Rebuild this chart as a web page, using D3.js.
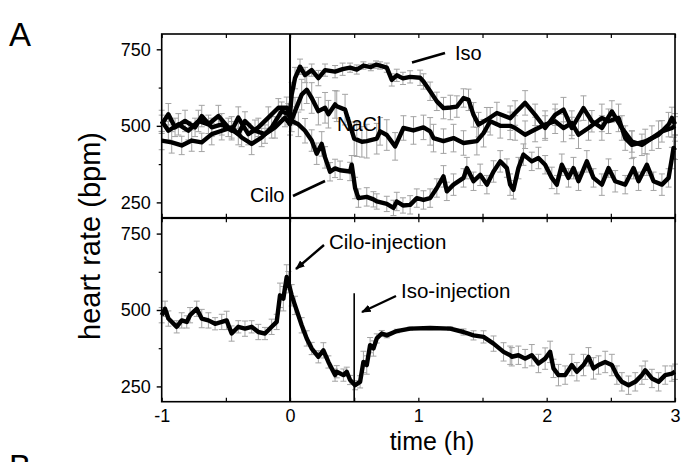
<!DOCTYPE html>
<html>
<head>
<meta charset="utf-8">
<script src="https://cdn.jsdelivr.net/npm/d3@7"></script>
<style>
  html, body { margin: 0; padding: 0; background: #fff; }
  svg text { font-family: "Liberation Sans", Arial, Helvetica, sans-serif; fill: #000; }
</style>
</head>
<body>
<svg id="chart" width="686" height="462"></svg>
<script>
// ---- data: [time (h), heart rate (bpm), error (bpm)] ----
const isoTop = [[-1.0,505,30],[-0.948,538,35],[-0.896,495,30],[-0.818,516,35],[-0.74,495,30],[-0.688,532,35],[-0.61,495,30],[-0.532,505,35],[-0.455,484,30],[-0.403,527,35],[-0.325,473,35],[-0.247,495,30],[-0.169,527,35],[-0.091,559,30],[-0.026,559,35],[0.0,538,30],[0.013,602,40],[0.039,656,35],[0.078,693,25],[0.117,666,25],[0.169,682,20],[0.221,656,25],[0.273,682,20],[0.351,677,20],[0.41,685,20],[0.468,690,15],[0.52,684,15],[0.572,697,12],[0.63,692,12],[0.67,700,12],[0.702,697,12],[0.754,690,15],[0.793,650,20],[0.832,665,20],[0.88,655,20],[0.936,660,20],[1.014,657,25],[1.04,645,25],[1.092,613,30],[1.144,580,30],[1.196,558,35],[1.25,560,40],[1.30,563,35],[1.352,591,30],[1.391,585,35],[1.43,536,40],[1.469,504,40],[1.534,520,40],[1.612,542,35],[1.716,525,40],[1.754,542,40],[1.832,575,40],[1.91,536,35],[1.988,493,40],[2.066,536,35],[2.131,553,40],[2.196,493,35],[2.287,558,40],[2.352,515,35],[2.43,493,40],[2.508,547,35],[2.586,493,40],[2.664,449,35],[2.742,438,35],[2.82,460,40],[2.898,482,35],[2.976,493,30],[3.0,500,30]];

const naclTop = [[-1.0,516,35],[-0.948,484,30],[-0.87,505,35],[-0.792,484,30],[-0.714,516,35],[-0.636,505,30],[-0.558,532,35],[-0.481,495,30],[-0.403,473,35],[-0.351,516,30],[-0.273,484,35],[-0.195,473,30],[-0.117,495,35],[-0.039,527,30],[0.0,505,35],[0.039,548,45],[0.091,602,50],[0.13,618,45],[0.169,591,50],[0.221,548,45],[0.273,559,50],[0.299,538,45],[0.351,570,45],[0.364,564,50],[0.429,553,50],[0.5,458,55],[0.52,455,55],[0.56,448,50],[0.598,450,55],[0.676,458,50],[0.702,482,45],[0.754,470,50],[0.819,433,45],[0.884,493,40],[0.962,485,45],[1.04,495,40],[1.092,482,45],[1.118,460,45],[1.196,450,40],[1.274,460,45],[1.352,444,40],[1.456,450,45],[1.508,476,45],[1.56,515,45],[1.638,500,40],[1.716,500,45],[1.754,493,40],[1.832,471,45],[1.91,488,40],[1.988,504,45],[2.066,515,40],[2.131,493,45],[2.196,509,40],[2.248,471,45],[2.326,493,40],[2.43,526,45],[2.482,515,40],[2.56,526,45],[2.612,460,40],[2.664,438,45],[2.768,449,40],[2.872,471,45],[2.95,504,40],[2.976,526,35],[3.0,505,35]];

const ciloTop = [[-1.0,452,30],[-0.922,446,35],[-0.844,436,30],[-0.766,452,35],[-0.688,446,30],[-0.61,473,35],[-0.532,484,30],[-0.455,495,35],[-0.377,462,30],[-0.299,441,35],[-0.221,462,30],[-0.143,495,35],[-0.065,548,30],[-0.013,538,35],[0.013,516,35],[0.065,505,40],[0.117,484,40],[0.169,452,35],[0.208,409,35],[0.247,441,40],[0.273,397,35],[0.312,350,30],[0.351,361,30],[0.39,355,30],[0.468,351,30],[0.481,373,30],[0.507,297,35],[0.533,264,30],[0.598,268,30],[0.65,260,25],[0.676,253,25],[0.754,245,25],[0.806,232,25],[0.832,253,30],[0.88,240,25],[0.936,242,30],[0.988,264,30],[1.04,258,30],[1.092,264,30],[1.144,297,30],[1.196,335,35],[1.222,286,30],[1.274,308,35],[1.352,330,30],[1.378,362,35],[1.43,319,30],[1.482,340,35],[1.534,308,30],[1.586,351,35],[1.638,384,35],[1.69,362,30],[1.715,308,35],[1.741,291,30],[1.78,362,35],[1.819,406,35],[1.884,384,30],[1.936,395,35],[1.988,373,30],[2.04,330,35],[2.079,308,30],[2.118,373,35],[2.17,330,30],[2.209,362,35],[2.248,319,30],[2.313,384,35],[2.365,330,30],[2.43,308,35],[2.482,362,30],[2.534,319,35],[2.612,308,30],[2.677,362,35],[2.716,319,30],[2.781,373,35],[2.833,319,30],[2.898,308,35],[2.95,330,30],[2.976,395,35],[2.989,428,35],[3.0,420,30]];

const ciloIsoBottom = [[-1.0,483,25],[-0.974,504,25],[-0.948,472,25],[-0.883,445,20],[-0.844,466,25],[-0.805,461,20],[-0.779,483,25],[-0.727,504,25],[-0.688,472,30],[-0.636,466,25],[-0.584,455,20],[-0.532,461,25],[-0.494,466,30],[-0.455,423,25],[-0.403,445,20],[-0.351,439,25],[-0.299,445,20],[-0.247,428,25],[-0.195,423,20],[-0.143,445,25],[-0.104,461,25],[-0.078,548,40],[-0.052,537,40],[-0.026,608,40],[-0.013,591,35],[0.013,548,35],[0.039,515,30],[0.091,450,25],[0.13,407,25],[0.169,374,20],[0.221,347,20],[0.26,368,25],[0.299,330,20],[0.351,287,20],[0.364,298,20],[0.416,287,20],[0.442,298,15],[0.468,271,15],[0.507,254,15],[0.546,265,20],[0.572,330,35],[0.598,320,30],[0.624,385,25],[0.65,374,25],[0.676,407,15],[0.715,423,10],[0.754,417,8],[0.832,431,6],[0.936,439,5],[1.092,441,5],[1.248,439,6],[1.352,428,10],[1.43,417,15],[1.508,412,20],[1.586,390,25],[1.664,363,30],[1.716,352,30],[1.728,347,30],[1.78,352,30],[1.832,341,30],[1.884,352,35],[1.936,325,30],[1.988,341,35],[2.027,363,35],[2.053,309,30],[2.092,287,35],[2.144,287,30],[2.196,320,35],[2.235,298,30],[2.287,320,35],[2.326,347,30],[2.365,309,35],[2.404,320,30],[2.456,330,35],[2.508,320,35],[2.547,287,30],[2.586,265,30],[2.638,254,30],[2.69,265,30],[2.742,287,30],[2.768,303,30],[2.82,276,30],[2.872,265,30],[2.924,287,30],[2.976,292,25],[3.0,298,25]];

const xTickValues = [-1, -0.5, 0, 0.5, 1, 1.5, 2, 2.5, 3];
const xTickLabels = [-1, 0, 1, 2, 3];
const yTickLabels = [250, 500, 750];
const yMinorTicks = [375, 625];

// ---- layout ----
const svg = d3.select("#chart");
const x = d3.scaleLinear().domain([-1, 3]).range([161.7, 675]);
const yTop = d3.scaleLinear().domain([200, 800]).range([217.7, 34]);
const yBot = d3.scaleLinear().domain([200, 800]).range([401.7, 218.3]);

const defs = svg.append("defs");
defs.append("marker").attr("id", "arrow").attr("viewBox", "0 0 10 10")
  .attr("refX", 9).attr("refY", 5).attr("markerWidth", 4).attr("markerHeight", 4)
  .attr("markerUnits", "strokeWidth").attr("orient", "auto")
  .append("path").attr("d", "M0,1 L10,5 L0,9 z").attr("fill", "#000");

function drawPanel(y, seriesList, showXLabels) {
  const g = svg.append("g");
  // error bars
  seriesList.forEach(s => {
    const eb = g.append("g").attr("stroke", "#a3a3a3").attr("stroke-width", 1);
    s.forEach(d => {
      const cx = x(d[0]);
      eb.append("line").attr("x1", cx).attr("x2", cx).attr("y1", y(d[1] - d[2])).attr("y2", y(d[1] + d[2]));
      eb.append("line").attr("x1", cx - 3).attr("x2", cx + 3).attr("y1", y(d[1] + d[2])).attr("y2", y(d[1] + d[2]));
      eb.append("line").attr("x1", cx - 3).attr("x2", cx + 3).attr("y1", y(d[1] - d[2])).attr("y2", y(d[1] - d[2]));
    });
  });
  // lines
  const line = d3.line().x(d => x(d[0])).y(d => y(d[1]));
  seriesList.forEach(s => {
    g.append("path").datum(s).attr("d", line).attr("fill", "none")
      .attr("stroke", "#000").attr("stroke-width", 4.4).attr("stroke-linejoin", "round");
  });
  // frame
  const [y0, y1] = y.range();
  g.append("rect").attr("x", x(-1)).attr("y", y1).attr("width", x(3) - x(-1)).attr("height", y0 - y1)
    .attr("fill", "none").attr("stroke", "#000").attr("stroke-width", 1.6);
  // left axis
  const la = g.append("g").attr("transform", `translate(${x(-1)},0)`)
    .call(d3.axisLeft(y).tickValues(yTickLabels).tickSize(5).tickPadding(6));
  la.select(".domain").remove();
  la.selectAll("line").attr("stroke-width", 1.4);
  la.selectAll("text").attr("font-size", 18);
  const lm = g.append("g").attr("transform", `translate(${x(-1)},0)`)
    .call(d3.axisLeft(y).tickValues(yMinorTicks).tickSize(3).tickFormat(""));
  lm.select(".domain").remove();
  lm.selectAll("line").attr("stroke-width", 1.2);
  // top inward ticks
  const ta = g.append("g").attr("transform", `translate(0,${y1})`)
    .call(d3.axisTop(x).tickValues(xTickValues).tickSize(-4).tickFormat(""));
  ta.select(".domain").remove();
  ta.selectAll("line").attr("stroke-width", 1.2);
  // bottom inward ticks
  const ba = g.append("g").attr("transform", `translate(0,${y0})`)
    .call(d3.axisBottom(x).tickValues(xTickValues).tickSize(-4).tickPadding(8)
      .tickFormat(d => showXLabels && xTickLabels.includes(d) ? d : ""));
  ba.select(".domain").remove();
  ba.selectAll("line").attr("stroke-width", 1.2);
  ba.selectAll("text").attr("font-size", 18);
}

drawPanel(yTop, [isoTop, naclTop, ciloTop], false);
drawPanel(yBot, [ciloIsoBottom], true);

// injection lines
svg.append("line").attr("x1", x(0)).attr("x2", x(0)).attr("y1", yTop(800)).attr("y2", yBot(200))
  .attr("stroke", "#000").attr("stroke-width", 2);
svg.append("line").attr("x1", x(0.5)).attr("x2", x(0.5)).attr("y1", yBot(555)).attr("y2", yBot(200))
  .attr("stroke", "#000").attr("stroke-width", 1.6);

// annotations
function label(t, px, py, size, anchor) {
  svg.append("text").attr("x", px).attr("y", py).attr("font-size", size)
    .attr("text-anchor", anchor || "start").text(t);
}
label("Iso", 455, 60, 20);
svg.append("line").attr("x1", 412).attr("y1", 62.5).attr("x2", 445).attr("y2", 53)
  .attr("stroke", "#000").attr("stroke-width", 2.6);
label("NaCl", 337, 131, 20);
label("Cilo", 250, 202, 20);
svg.append("line").attr("x1", 293).attr("y1", 196).attr("x2", 325).attr("y2", 181)
  .attr("stroke", "#000").attr("stroke-width", 2.6);
label("Cilo-injection", 329, 249, 20.5);
svg.append("line").attr("x1", 324).attr("y1", 245).attr("x2", 296).attr("y2", 269)
  .attr("stroke", "#000").attr("stroke-width", 2.4).attr("marker-end", "url(#arrow)");
label("Iso-injection", 401, 298, 20.5);
svg.append("line").attr("x1", 396).attr("y1", 296).attr("x2", 362).attr("y2", 312)
  .attr("stroke", "#000").attr("stroke-width", 2.4).attr("marker-end", "url(#arrow)");

// axis titles and panel letters
svg.append("text").attr("transform", `translate(100,236) rotate(-90)`)
  .attr("text-anchor", "middle").attr("font-size", 29).text("heart rate (bpm)");
svg.append("text").attr("x", 432).attr("y", 450).attr("text-anchor", "middle")
  .attr("font-size", 25).text("time (h)");
label("A", 9, 46, 33);
label("B", 9, 478, 33);
</script>
</body>
</html>
